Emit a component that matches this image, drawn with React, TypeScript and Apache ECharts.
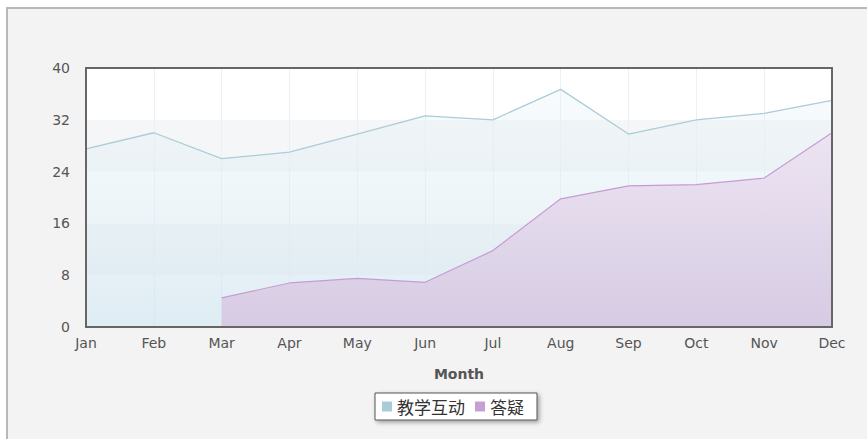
import React, { useEffect, useRef } from "react";
import * as echarts from "echarts";

const months = ["Jan", "Feb", "Mar", "Apr", "May", "Jun", "Jul", "Aug", "Sep", "Oct", "Nov", "Dec"];
const interactionValues = [27.5, 30, 26, 27, 29.8, 32.6, 32, 36.7, 29.8, 32, 33, 35];
const answerValues: (number | null)[] = [null, null, 4.5, 6.8, 7.5, 6.9, 11.8, 19.8, 21.8, 22, 23, 30];
const seriesNames = ["教学互动", "答疑"];

export default function App() {
  const ref = useRef<HTMLDivElement>(null);
  useEffect(() => {
    document.body.style.margin = "0";
    const chart = echarts.init(ref.current!, null, { renderer: "svg" });
    const font = "Verdana, 'DejaVu Sans', sans-serif";
    chart.setOption({
      animation: false,
      backgroundColor: "#ffffff",
      graphic: [
        {
          type: "rect",
          z: -10,
          silent: true,
          shape: { x: 7, y: 8, width: 880, height: 450 },
          style: { fill: "#f3f3f3", stroke: "#b8b8b8", lineWidth: 2 },
        },
        {
          type: "rect",
          z: 100,
          silent: true,
          shape: { x: 86, y: 68, width: 746, height: 259 },
          style: { fill: "none", stroke: "#666666", lineWidth: 2 },
        },
      ],
      grid: {
        left: 86,
        top: 68,
        width: 746,
        height: 259,
        show: true,
        backgroundColor: "#ffffff",
        borderWidth: 0,
      },
      legend: {
        data: seriesNames,
        top: 393,
        left: 375,
        icon: "rect",
        itemWidth: 10,
        itemHeight: 10,
        itemGap: 10,
        padding: [5, 13, 5, 7],
        backgroundColor: "#ffffff",
        borderColor: "#555555",
        borderWidth: 1,
        shadowColor: "rgba(0,0,0,0.35)",
        shadowBlur: 4,
        shadowOffsetX: 2,
        shadowOffsetY: 2,
        textStyle: { fontSize: 17, color: "#333", fontFamily: "'Noto Sans CJK SC', sans-serif" },
      },
      xAxis: {
        type: "category",
        data: months,
        boundaryGap: false,
        name: "Month",
        nameLocation: "middle",
        nameGap: 40,
        nameTextStyle: { fontWeight: "bold", fontSize: 14, color: "#555", fontFamily: font },
        axisLine: { show: false },
        axisTick: { show: false },
        axisLabel: { color: "#555", fontSize: 14, fontFamily: font, margin: 9 },
        splitLine: { show: true, lineStyle: { color: "#e6f1f9", width: 1 } },
      },
      yAxis: {
        type: "value",
        min: 0,
        max: 40,
        interval: 8,
        axisLine: { show: false },
        axisTick: { show: false },
        axisLabel: { color: "#555", fontSize: 14, fontFamily: font, margin: 16 },
        splitLine: { show: false },
        splitArea: { show: true, areaStyle: { color: ["#ffffff", "#f5f6f7"] } },
      },
      series: [
        {
          name: seriesNames[0],
          type: "line",
          data: interactionValues,
          symbol: "none",
          itemStyle: { color: "#a9ccd9" },
          lineStyle: { color: "#acccd8", width: 1.3 },
          areaStyle: {
            color: new echarts.graphic.LinearGradient(0, 0, 0, 1, [
              { offset: 0, color: "rgba(230,242,247,0.3)" },
              { offset: 1, color: "rgba(208,228,238,0.7)" },
            ]),
            opacity: 1,
            origin: "start",
          },
          z: 2,
        },
        {
          name: seriesNames[1],
          type: "line",
          data: answerValues,
          symbol: "none",
          connectNulls: false,
          itemStyle: { color: "#c6a0d4" },
          lineStyle: { color: "#c79cd4", width: 1.2 },
          areaStyle: {
            color: new echarts.graphic.LinearGradient(0, 0, 0, 1, [
              { offset: 0, color: "#ede4f2" },
              { offset: 1, color: "#d6cbe3" },
            ]),
            opacity: 1,
            origin: "start",
          },
          z: 3,
        },
      ],
    });
    return () => chart.dispose();
  }, []);
  return <div ref={ref} style={{ width: 867, height: 439 }} />;
}
